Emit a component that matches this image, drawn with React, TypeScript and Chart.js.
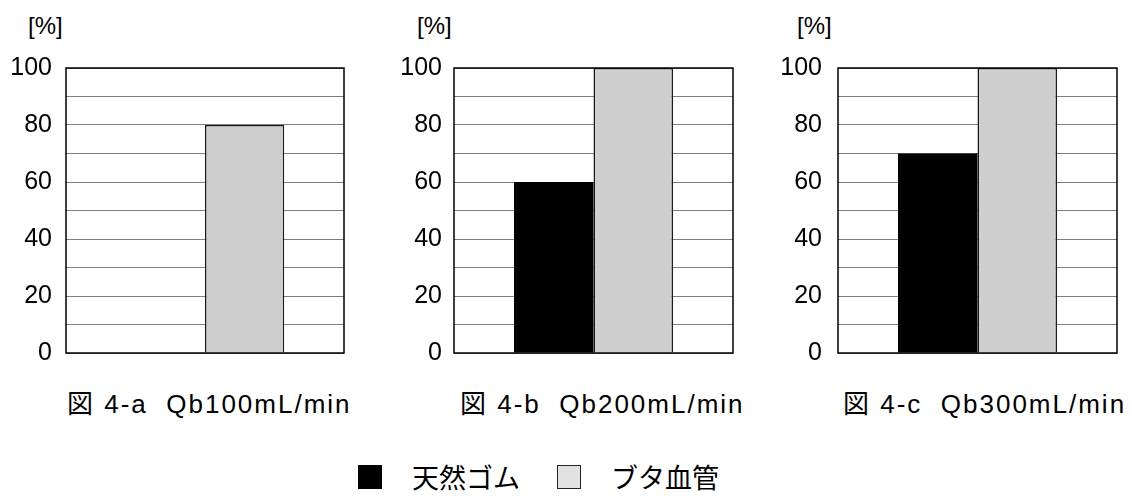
import React, { useEffect, useRef } from 'react';
import { Chart, registerables } from 'chart.js';

Chart.register(...registerables);

// ---- data ----
const panelCaptions = ['図 4-a  Qb100mL/min', '図 4-b  Qb200mL/min', '図 4-c  Qb300mL/min'];
const seriesNames = ['天然ゴム', 'ブタ血管'];
const naturalRubber = [0, 60, 70];
const pigVessel = [80, 100, 100];
const yUnit = '[%]';
const yMin = 0;
const yMax = 100;
const yStep = 10;
const yLabelEvery = 20;

// ---- layout (page pixels) ----
const PANEL_TOP = 48;
const PAD_V = 20;
const PLOT_BOTTOM = 353;
const AXIS_W = 80;
const layouts = [
  { plotLeft: 66, plotRight: 344, labelRight: 52, unitLeft: 28, capLeft: 67 },
  { plotLeft: 454, plotRight: 733, labelRight: 442, unitLeft: 417, capLeft: 460 },
  { plotLeft: 838, plotRight: 1117, labelRight: 822, unitLeft: 797, capLeft: 843 },
];

const framePlugin = {
  id: 'frame',
  afterDatasetsDraw(chart: any) {
    const { ctx, chartArea: a } = chart;
    ctx.save();
    ctx.strokeStyle = '#000';
    ctx.lineWidth = 1.5;
    ctx.strokeRect(a.left, a.top, a.right - a.left, a.bottom - a.top);
    ctx.restore();
  },
};

function Panel({ index }: { index: number }) {
  const ref = useRef<HTMLCanvasElement | null>(null);
  const lay = layouts[index];
  const canvasLeft = lay.plotLeft - AXIS_W;
  const width = lay.plotRight + 6 - canvasLeft;
  const height = PLOT_BOTTOM + PAD_V - PANEL_TOP;

  useEffect(() => {
    if (!ref.current) return;
    const chart = new Chart(ref.current, {
      type: 'bar',
      data: {
        labels: [panelCaptions[index]],
        datasets: [
          {
            label: seriesNames[0],
            data: [naturalRubber[index]],
            backgroundColor: '#000000',
            borderColor: '#000000',
            borderWidth: 0,
            categoryPercentage: 0.57,
            barPercentage: 1.0,
          },
          {
            label: seriesNames[1],
            data: [pigVessel[index]],
            backgroundColor: '#cfcfcf',
            borderColor: '#1a1a1a',
            borderWidth: 1.5,
            categoryPercentage: 0.57,
            barPercentage: 1.0,
          },
        ],
      },
      options: {
        animation: false,
        responsive: false,
        devicePixelRatio: 1,
        layout: { padding: { top: PAD_V, bottom: PAD_V, left: 0, right: 6 } },
        plugins: { legend: { display: false }, tooltip: { enabled: false } },
        scales: {
          x: { display: false, offset: true },
          y: {
            min: yMin,
            max: yMax,
            ticks: {
              stepSize: yStep,
              autoSkip: false,
              padding: lay.plotLeft - lay.labelRight,
              color: '#000',
              font: { family: "'Liberation Sans', Arial, sans-serif", size: 25 },
              callback: (v: any) => (Number(v) % yLabelEvery === 0 ? String(v) : ''),
            },
            grid: { color: '#808080', lineWidth: 1, drawTicks: false },
            border: { display: false },
            afterFit: (s: any) => {
              s.width = AXIS_W;
              s.paddingTop = 0;
              s.paddingBottom = 0;
            },
          },
        },
      } as any,
      plugins: [framePlugin],
    });
    return () => chart.destroy();
  }, [index]);

  return (
    <>
      <canvas
        ref={ref}
        width={width}
        height={height}
        style={{ position: 'absolute', left: canvasLeft, top: PANEL_TOP, width, height }}
      />
      <div
        style={{
          position: 'absolute',
          left: lay.unitLeft,
          top: 10,
          fontFamily: "'Liberation Sans', Arial, sans-serif",
          fontSize: 24,
          lineHeight: '32px',
          whiteSpace: 'nowrap',
        }}
      >
        {yUnit}
      </div>
      <div
        style={{
          position: 'absolute',
          left: lay.capLeft,
          top: 390,
          fontFamily: "'Liberation Sans', 'Noto Sans CJK JP', sans-serif",
          fontSize: 26,
          lineHeight: '28px',
          letterSpacing: '2px',
          whiteSpace: 'pre',
        }}
      >
        {panelCaptions[index]}
      </div>
    </>
  );
}

export default function App() {
  return (
    <div
      style={{
        position: 'absolute',
        left: 0,
        top: 0,
        width: 1131,
        height: 496,
        background: '#fff',
        overflow: 'hidden',
        color: '#000',
      }}
    >
      {layouts.map((_, i) => (
        <Panel key={i} index={i} />
      ))}
      <div
        style={{
          position: 'absolute',
          left: 358,
          top: 464,
          display: 'flex',
          alignItems: 'center',
          fontFamily: "'Noto Sans CJK JP', sans-serif",
          fontSize: 27,
          lineHeight: '26px',
          whiteSpace: 'nowrap',
        }}
      >
        <span style={{ display: 'inline-block', width: 24, height: 24, background: '#000' }} />
        <span style={{ marginLeft: 30 }}>{seriesNames[0]}</span>
        <span
          style={{
            display: 'inline-block',
            width: 22,
            height: 22,
            background: '#e2e2e2',
            border: '1.5px solid #222',
            marginLeft: 37,
          }}
        />
        <span style={{ marginLeft: 30 }}>{seriesNames[1]}</span>
      </div>
    </div>
  );
}
